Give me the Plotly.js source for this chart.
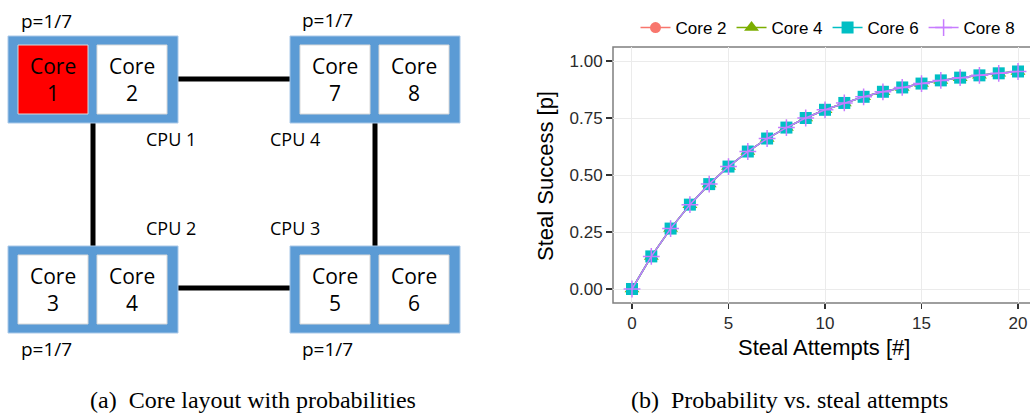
<!DOCTYPE html>
<html>
<head>
<meta charset="utf-8">
<script src="https://cdn.plot.ly/plotly-3.0.1.min.js"></script>
<style>
  html, body { margin: 0; padding: 0; background: #ffffff; }
  #fig { width: 1030px; height: 418px; }
</style>
</head>
<body>
<div id="fig"></div>
<script>
// Steal attempts on the x axis
const attempts = [0, 1, 2, 3, 4, 5, 6, 7, 8, 9, 10, 11, 12, 13, 14, 15, 16, 17, 18, 19, 20];

// Probability of a successful steal per core after n attempts
const core2 = [0.000, 0.143, 0.265, 0.370, 0.460, 0.537, 0.603, 0.660, 0.708, 0.750, 0.786,
               0.816, 0.843, 0.865, 0.884, 0.901, 0.915, 0.927, 0.937, 0.946, 0.954];
const core4 = [0.000, 0.143, 0.265, 0.370, 0.460, 0.537, 0.603, 0.660, 0.708, 0.750, 0.786,
               0.816, 0.843, 0.865, 0.884, 0.901, 0.915, 0.927, 0.937, 0.946, 0.954];
const core6 = [0.000, 0.143, 0.265, 0.370, 0.460, 0.537, 0.603, 0.660, 0.708, 0.750, 0.786,
               0.816, 0.843, 0.865, 0.884, 0.901, 0.915, 0.927, 0.937, 0.946, 0.954];
const core8 = [0.000, 0.143, 0.265, 0.370, 0.460, 0.537, 0.603, 0.660, 0.708, 0.750, 0.786,
               0.816, 0.843, 0.865, 0.884, 0.901, 0.915, 0.927, 0.937, 0.946, 0.954];

const seriesNames = ['Core 2', 'Core 4', 'Core 6', 'Core 8'];
const xTicks = [0, 5, 10, 15, 20];
const yTicks = [0, 0.25, 0.5, 0.75, 1];

// Topology diagram: four CPUs with two cores each
const cpuNames  = ['CPU 1', 'CPU 4', 'CPU 2', 'CPU 3'];
const cpuCores  = [['1', '2'], ['7', '8'], ['3', '4'], ['5', '6']];
const probLabel = 'p=1/7';

const W = 1030, H = 418;
const px = x => x / W;
const py = y => 1 - y / H;

const BLUE = '#5B9BD5';
const FONT_DIAG = 'Open Sans, Noto Sans, sans-serif';
const FONT_PLOT = 'Liberation Sans, Arial, sans-serif';
const FONT_CAP = 'Liberation Serif, Times New Roman, serif';

// box placement (top-left corner of each CPU package, in px)
const cpuBoxes = [
  { x: 8,   y: 36,  label: { x: 171, y: 139 }, p: { x: 46,  y: 21 } },
  { x: 290, y: 36,  label: { x: 295, y: 139 }, p: { x: 327, y: 20 } },
  { x: 8,   y: 246, label: { x: 171, y: 228 }, p: { x: 46,  y: 349 } },
  { x: 290, y: 246, label: { x: 295, y: 228 }, p: { x: 327, y: 349 } }
];

const shapes = [];
const annotations = [];

function rectPx(x0, y0, x1, y1, fill, line) {
  shapes.push({
    type: 'rect', xref: 'paper', yref: 'paper', layer: 'above',
    x0: px(x0), x1: px(x1), y0: py(y1), y1: py(y0),
    fillcolor: fill, line: line || { width: 0 }
  });
}
function linePx(x0, y0, x1, y1, w) {
  shapes.push({
    type: 'line', xref: 'paper', yref: 'paper', layer: 'above',
    x0: px(x0), x1: px(x1), y0: py(y0), y1: py(y1),
    line: { color: '#000000', width: w }
  });
}
function textPx(x, y, text, size, family, extra) {
  annotations.push(Object.assign({
    xref: 'paper', yref: 'paper', x: px(x), y: py(y),
    xanchor: 'center', yanchor: 'middle', showarrow: false,
    text: text, font: { family: family, size: size, color: '#000000' }
  }, extra || {}));
}

// interconnect links
linePx(176, 79, 292, 79, 5);
linePx(176, 288, 292, 288, 5);
linePx(93, 122, 93, 247, 5);
linePx(375, 121, 375, 247, 5);

cpuBoxes.forEach((b, i) => {
  rectPx(b.x, b.y, b.x + 170, b.y + 87, BLUE, { color: '#A9C8E8', width: 1 });
  const coreOffsets = [10, 89];
  coreOffsets.forEach((off, j) => {
    const isHome = (i === 0 && j === 0);
    const x0 = b.x + off, x1 = x0 + 70;
    const y0 = b.y + 9, y1 = y0 + 69;
    rectPx(x0, y0, x1, y1, isHome ? '#FF0000' : '#FFFFFF', { color: '#D9D9D9', width: 1 });
    textPx((x0 + x1) / 2, (y0 + y1) / 2, 'Core<br>' + cpuCores[i][j], 21, FONT_DIAG);
  });
  textPx(b.label.x, b.label.y, cpuNames[i], 18, FONT_DIAG);
  textPx(b.p.x, b.p.y, probLabel, 19, FONT_DIAG);
});

// sub-figure captions
textPx(253, 400, '(a)&nbsp; Core layout with probabilities', 24, FONT_CAP);
textPx(789, 400, '(b)&nbsp; Probability vs. steal attempts', 24, FONT_CAP);

// axis titles
textPx(824, 347, 'Steal Attempts [#]', 22, FONT_PLOT);
textPx(545, 176, 'Steal Success [p]', 22, FONT_PLOT, { textangle: -90 });

// panel border (right side runs past the page edge)
shapes.push({
  type: 'rect', xref: 'x domain', yref: 'y domain', layer: 'below',
  x0: 0, x1: 1.02, y0: 0, y1: 1,
  fillcolor: 'rgba(0,0,0,0)', line: { color: '#7F7F7F', width: 1.5 }
});

const styles = [
  { color: '#F8766D', symbol: 'circle', size: 11 },
  { color: '#7CAE00', symbol: 'triangle-up', size: 13 },
  { color: '#00BFC4', symbol: 'square', size: 12 },
  { color: '#C77CFF', symbol: 'cross-thin-open', size: 12 }
];
const values = [core2, core4, core6, core8];

const traces = values.map((v, i) => ({
  type: 'scatter', mode: 'lines+markers', name: seriesNames[i],
  x: attempts, y: v,
  line: { color: styles[i].color, width: 1.5 },
  marker: {
    color: styles[i].color, symbol: styles[i].symbol, size: styles[i].size,
    line: { color: styles[i].color, width: styles[i].symbol === 'cross-thin-open' ? 1.5 : 0 }
  },
  cliponaxis: false
}));

const layout = {
  width: W, height: H,
  margin: { l: 0, r: 0, t: 0, b: 0, pad: 0 },
  paper_bgcolor: '#FFFFFF', plot_bgcolor: '#FFFFFF',
  showlegend: true,
  legend: {
    orientation: 'h', x: 828 / W, y: py(28), xanchor: 'center', yanchor: 'middle',
    font: { family: FONT_PLOT, size: 17, color: '#000000' },
    bgcolor: 'rgba(0,0,0,0)', traceorder: 'normal'
  },
  xaxis: {
    domain: [613 / W, 1], range: [-0.984, 20.62],
    tickvals: xTicks, ticktext: xTicks.map(String),
    showgrid: true, gridcolor: '#EBEBEB', gridwidth: 1, zeroline: false,
    showline: false, ticks: 'outside', ticklen: 5, tickwidth: 1.5, tickcolor: '#333333',
    tickfont: { family: FONT_PLOT, size: 17, color: '#2b2b2b' },
    fixedrange: true
  },
  yaxis: {
    domain: [py(303), py(47)], range: [-0.0614, 1.0614],
    tickvals: yTicks, tickformat: '.2f',
    showgrid: true, gridcolor: '#EBEBEB', gridwidth: 1, zeroline: false,
    showline: false, ticks: 'outside', ticklen: 6, tickwidth: 1.5, tickcolor: '#333333',
    tickfont: { family: FONT_PLOT, size: 17, color: '#2b2b2b' },
    fixedrange: true
  },
  shapes: shapes,
  annotations: annotations
};

Plotly.newPlot('fig', traces, layout, { staticPlot: true, displayModeBar: false });
</script>
</body>
</html>
